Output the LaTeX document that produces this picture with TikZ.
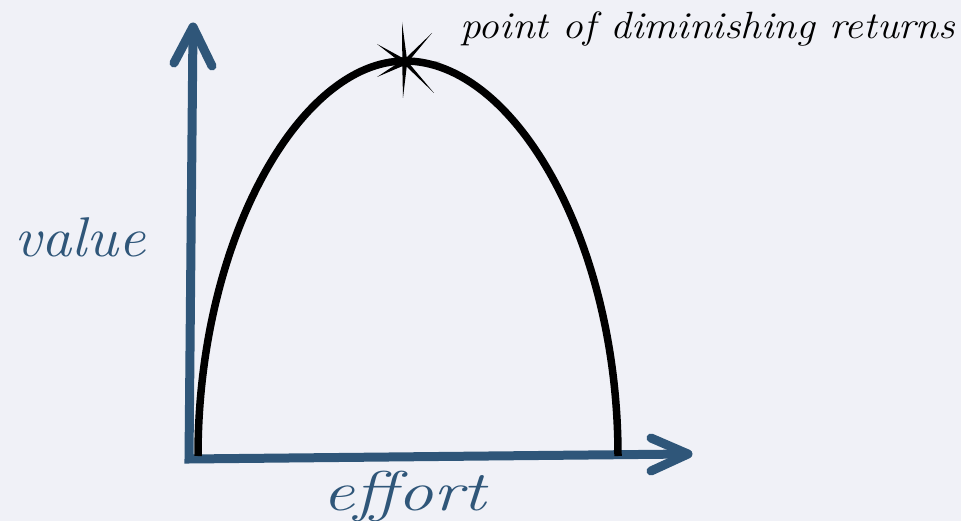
\documentclass[tikz,border=0pt]{standalone}
\usepackage{fontspec}
\definecolor{bg}{HTML}{F0F1F7}
\definecolor{axblue}{HTML}{2F5679}
\tikzset{
  axisline/.style={draw=axblue, line width=9pt, line join=miter, line cap=butt},
  chevron/.style={draw=axblue, line width=9pt, line join=round, line cap=round},
  curveline/.style={draw=black, line width=7.5pt, line cap=butt},
  handlabel/.style={inner sep=0pt, font=\itshape},
}
\begin{document}
\begin{tikzpicture}[x=1pt, y=-1pt]
  \fill[bg] (0,0) rectangle (961,521);
  \useasboundingbox (0,0) rectangle (961,521);

  % axes
  \coordinate (O) at (189,459);
  \coordinate (Ytip) at (193,27);
  \coordinate (Xtip) at (688,454);
  \coordinate (Yl) at (174,63);
  \coordinate (Yr) at (212,66);
  \coordinate (Xu) at (651,438);
  \coordinate (Xd) at (651,471);
  \draw[axisline] (Ytip) -- (O) -- (Xtip);
  \draw[chevron] (Yl) -- (Ytip) -- (Yr);
  \draw[chevron] (Xu) -- (Xtip) -- (Xd);

  % curve
  \coordinate (C0) at (198,456);
  \coordinate (Peak) at (405,61);
  \coordinate (C1) at (618,456);
  \draw[curveline] (C0) .. controls (198,240) and (300,61) .. (Peak)
                        .. controls (514,61) and (618,240) .. (C1);

  % star
  \fill[black] (402,22) -- (406.7,57.3) -- (432,33) -- (409.6,60) -- (440,62)
     -- (409.6,64) -- (434,93) -- (406.7,66.7) -- (403,98) -- (402.3,66.2)
     -- (377,77) -- (400,61.8) -- (377,44) -- (402.3,57.8) -- cycle;

  % labels
  \node[handlabel, text=black, anchor=base west, xscale=1.09] (pdr) at (460,39)
    {\fontsize{38}{38}\selectfont point of diminishing returns};
  \node[handlabel, text=axblue, anchor=base west, xscale=1.08] (val) at (14,257)
    {\fontsize{56}{56}\selectfont value};
  \node[handlabel, text=axblue, anchor=base west, xscale=1.28] (eff) at (322,510)
    {\fontsize{56}{56}\selectfont effort};
\end{tikzpicture}
\end{document}
